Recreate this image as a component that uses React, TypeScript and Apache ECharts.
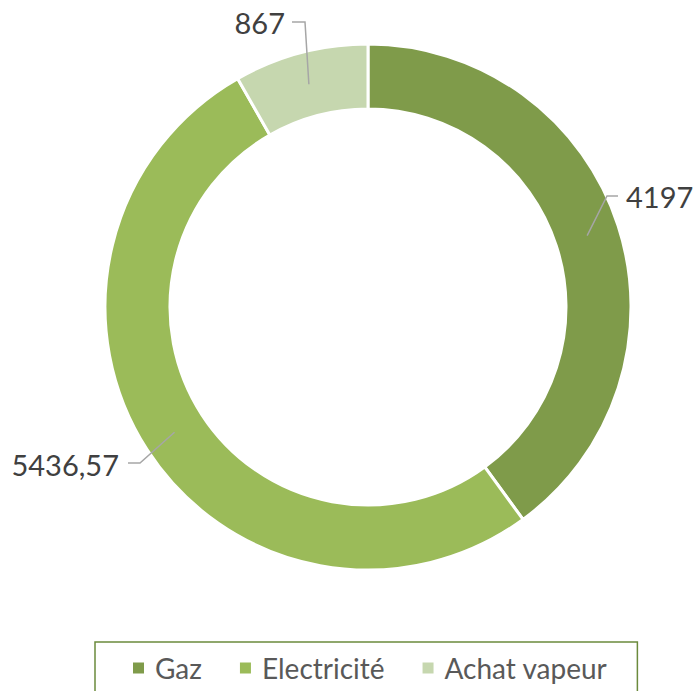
import React, { useEffect, useRef } from "react";
import * as echarts from "echarts";

const categories = ["Gaz", "Electricité", "Achat vapeur"];
const values = [4197, 5436.57, 867];
const labelTexts = ["4197", "5436,57", "867"];
const colors = ["#7F9B4A", "#9BBB59", "#C6D7AF"];

// label layout (elbow point, line end, label anchor, align)
const LABEL_LAYOUT = [
  { elbow: [607, 196], end: [618, 196], text: [626, 196], align: "left" },
  { elbow: [140, 463], end: [128, 463], text: [119, 464], align: "right" },
  { elbow: [305, 22], end: [292, 22], text: [285, 22], align: "right" },
];

const CX = 368;
const CY = 307;
const R_IN = 198;
const R_OUT = 263;
const FONT = "Lato, 'Noto Sans', sans-serif";

export default function App() {
  const ref = useRef<HTMLDivElement>(null);
  useEffect(() => {
    document.body.style.margin = "0";
    const chart = echarts.init(ref.current!, undefined, { renderer: "svg" });
    const total = values.reduce((a, b) => a + b, 0);
    const mids: number[] = [];
    let acc = 0;
    values.forEach((v) => {
      mids.push(((acc + v / 2) / total) * 2 * Math.PI);
      acc += v;
    });
    const rMid = (R_IN + R_OUT) / 2;
    const leaderLines = LABEL_LAYOUT.map((L, i) => {
      const a = mids[i];
      const start = [CX + rMid * Math.sin(a), CY - rMid * Math.cos(a)];
      return {
        type: "polyline",
        z: 100,
        silent: true,
        shape: { points: [start, L.elbow, L.end] },
        style: { stroke: "#A6A6A6", lineWidth: 1.5, fill: null },
      };
    });
    chart.setOption({
      animation: false,
      color: colors,
      textStyle: { fontFamily: FONT },
      legend: {
        data: categories,
        left: 95,
        top: 642,
        icon: "rect",
        itemWidth: 13,
        itemHeight: 13,
        itemGap: 36,
        padding: [12, 30, 30, 36],
        borderColor: "#6B8A3C",
        borderWidth: 1.5,
        textStyle: {
          fontSize: 28,
          color: "#595959",
          padding: [0, 0, 0, 5],
          fontFamily: FONT,
        },
      },
      graphic: leaderLines,
      series: [
        {
          type: "pie",
          center: [CX, CY],
          radius: [R_IN, R_OUT],
          startAngle: 90,
          clockwise: true,
          itemStyle: { borderColor: "#ffffff", borderWidth: 3 },
          data: categories.map((c, i) => ({ name: c, value: values[i] })),
          label: {
            show: true,
            position: "outside",
            formatter: (p: any) => labelTexts[p.dataIndex],
            fontSize: 29,
            color: "#404040",
            fontFamily: FONT,
            overflow: "none",
            width: 200,
          },
          labelLine: { show: false },
          labelLayout: (params: any) => {
            const L = LABEL_LAYOUT[params.dataIndex];
            return {
              x: L.text[0],
              y: L.text[1],
              align: L.align,
              verticalAlign: "middle",
            };
          },
          emphasis: { disabled: true },
        },
      ],
    });
    return () => chart.dispose();
  }, []);
  return <div ref={ref} style={{ width: 693, height: 691 }} />;
}
